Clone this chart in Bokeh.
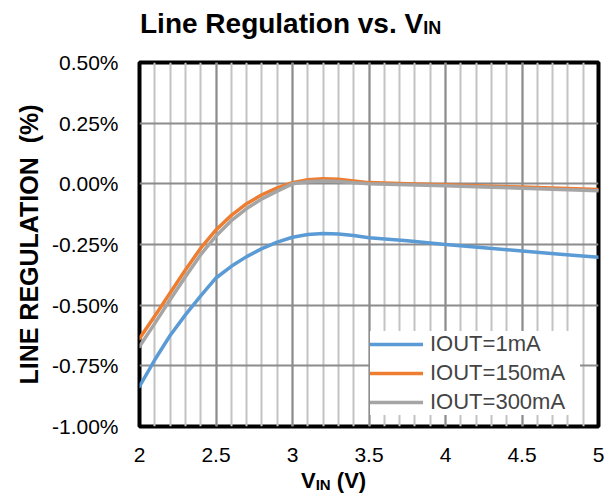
from bokeh.plotting import figure
from bokeh.layouts import column
from bokeh.models import (Range1d, SingleIntervalTicker, FixedTicker, PrintfTickFormatter,
                          Legend, LegendItem, Div)
from bokeh.embed import file_html
from bokeh.resources import INLINE

# ---------------- data ----------------
vin = [2.0, 2.1, 2.2, 2.3, 2.4, 2.5, 2.6, 2.7, 2.8, 2.9, 3.0, 3.1, 3.2, 3.3, 3.4, 3.5,
       3.75, 4.0, 4.25, 4.5, 4.75, 5.0]
iout_1ma = [-0.835, -0.725, -0.625, -0.54, -0.462, -0.388, -0.34, -0.30, -0.267, -0.24,
            -0.22, -0.209, -0.205, -0.207, -0.213, -0.222, -0.235, -0.25, -0.263, -0.277,
            -0.29, -0.303]
iout_150ma = [-0.637, -0.545, -0.45, -0.355, -0.265, -0.19, -0.13, -0.082, -0.045, -0.017,
              0.005, 0.017, 0.021, 0.019, 0.012, 0.005, 0.0, -0.004, -0.009, -0.013,
              -0.018, -0.023]
iout_300ma = [-0.67, -0.575, -0.478, -0.383, -0.292, -0.215, -0.152, -0.102, -0.062, -0.03,
              0.0, 0.009, 0.012, 0.01, 0.005, 0.0, -0.004, -0.008, -0.013, -0.018,
              -0.023, -0.028]
series_labels = ["IOUT=1mA", "IOUT=150mA", "IOUT=300mA"]
series_colors = ["#5B9BD5", "#ED7D31", "#A5A5A5"]
x_ticks = [2, 2.5, 3, 3.5, 4, 4.5, 5]
x_tick_labels = ["2", "2.5", "3", "3.5", "4", "4.5", "5"]
y_ticks = [0.5, 0.25, 0.0, -0.25, -0.5, -0.75, -1.0]

FONT = "Liberation Sans"
W = 605

title_div = Div(
    text='Line Regulation vs. V<span style="font-size:18px;position:relative;top:1px">IN</span>',
    width=W, height=50, margin=0,
    styles={"font-family": FONT, "font-size": "28px", "font-weight": "bold", "color": "black",
            "line-height": "28px", "padding-top": "10px", "padding-left": "140px",
            "white-space": "nowrap", "box-sizing": "border-box"})

p = figure(width=W, height=420, output_backend="svg", toolbar_location=None,
           x_range=Range1d(2, 5), y_range=Range1d(-1.0, 0.5),
           min_border_left=139, min_border_right=7, min_border_top=12, min_border_bottom=44,
           margin=0)
p.title.text = ""
p.background_fill_color = "white"
p.border_fill_color = "white"
p.outline_line_color = "black"
p.outline_line_width = 4

# axes
p.xaxis.ticker = SingleIntervalTicker(interval=0.5, num_minor_ticks=5)
p.xaxis.major_label_overrides = {t: l for t, l in zip(x_ticks, x_tick_labels)}
p.yaxis.ticker = FixedTicker(ticks=y_ticks)
p.yaxis.formatter = PrintfTickFormatter(format="%.2f%%")
for ax in (p.xaxis[0], p.yaxis[0]):
    ax.axis_line_color = None
    ax.major_tick_line_color = None
    ax.minor_tick_line_color = None
    ax.major_label_text_font = FONT
    ax.major_label_text_font_size = "21px"
    ax.major_label_text_color = "black"
p.xaxis.major_label_standoff = 15
p.yaxis.major_label_standoff = 15
p.yaxis.axis_label = "LINE REGULATION \u00a0(%)"
p.yaxis.axis_label_text_font = FONT
p.yaxis.axis_label_text_font_style = "bold"
p.yaxis.axis_label_text_font_size = "25px"
p.yaxis.axis_label_text_color = "black"
p.yaxis.axis_label_standoff = 6

# grids
p.xgrid.ticker = SingleIntervalTicker(interval=0.5, num_minor_ticks=5)
p.xgrid.grid_line_color = "#8C8C8C"
p.xgrid.grid_line_width = 2
p.xgrid.minor_grid_line_color = "#C3C3C3"
p.xgrid.minor_grid_line_width = 2
p.ygrid.ticker = FixedTicker(ticks=y_ticks)
p.ygrid.grid_line_color = "#8C8C8C"
p.ygrid.grid_line_width = 2

# series
renderers = []
for ys, c in zip([iout_1ma, iout_150ma, iout_300ma], series_colors):
    r = p.line(vin, ys, line_color=c, line_width=3.5, line_cap="round", line_join="round")
    renderers.append(r)

legend = Legend(items=[LegendItem(label=l, renderers=[r]) for l, r in zip(series_labels, renderers)],
                location=(231, 11), label_text_font=FONT, label_text_font_size="22px",
                glyph_width=53, glyph_height=20, label_standoff=7, padding=5, spacing=3,
                border_line_color=None, background_fill_color="white", background_fill_alpha=1.0,
                label_width=150, margin=0)
p.add_layout(legend)

xlabel_div = Div(
    text='V<span style="font-size:15px;position:relative;top:2px">IN</span> (V)',
    width=W, height=26, margin=0,
    styles={"font-family": FONT, "font-size": "22px", "font-weight": "bold", "color": "black",
            "line-height": "22px", "padding-top": "0px", "padding-left": "301px",
            "white-space": "nowrap", "box-sizing": "border-box"})

layout = column(title_div, p, xlabel_div, spacing=0)
open("out.html", "w").write(file_html(layout, INLINE))
